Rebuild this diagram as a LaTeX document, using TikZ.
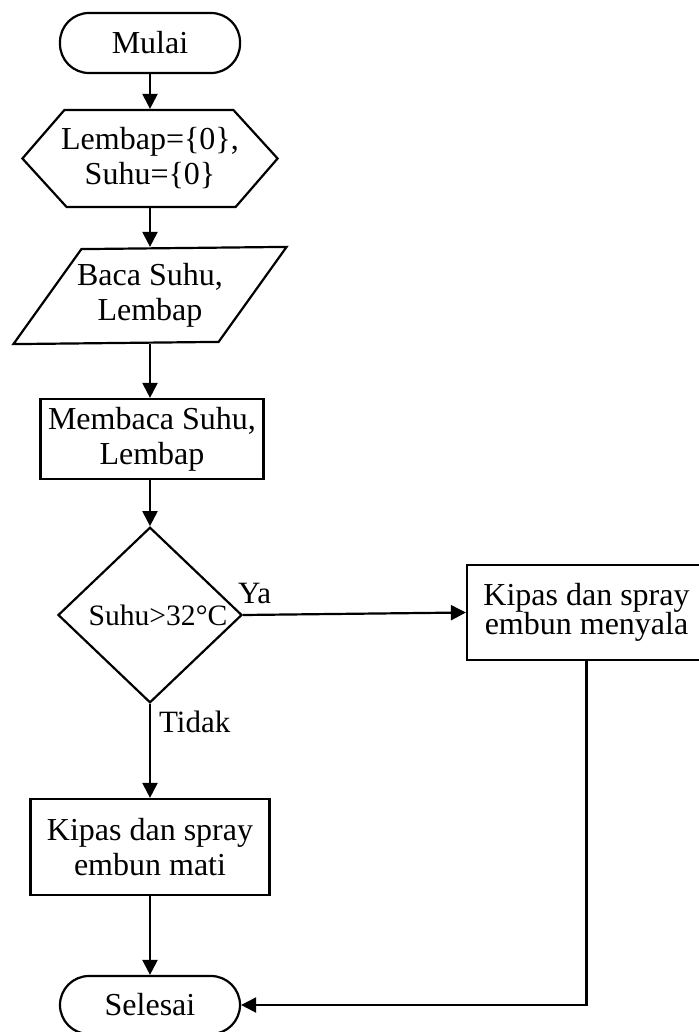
\documentclass[tikz,border=0pt]{standalone}
\usepackage{fontspec}
\setmainfont{Liberation Serif}
\usetikzlibrary{arrows.meta,shapes.geometric}

\begin{document}
\begin{tikzpicture}[x=0.5pt,y=-0.5pt,line width=1.1pt,
			font=\fontsize{16pt}{17.5pt}\selectfont,
			terminal/.style={draw,rounded corners=14.5pt,minimum width=90pt,minimum height=30pt,inner sep=0pt},
			prosesbox/.style={draw,rectangle,align=center,minimum width=119.5pt,minimum height=47.5pt,inner sep=0pt},
			keputusan/.style={draw,diamond,inner sep=0pt,minimum width=92pt,minimum height=85pt,font=\fontsize{14.8pt}{17pt}\selectfont},
			bentuk/.style={rectangle,align=center,inner sep=0pt},
			panah/.style={-{Triangle[length=7.5pt,width=7.5pt]}},
			cabang/.style={inner sep=1pt,font=\fontsize{15.5pt}{17pt}\selectfont}]
			\useasboundingbox (0,0) rectangle (699,1032);
			\node[terminal] (mulai) at (150,43) {Mulai};
			\node[bentuk,minimum width=126.5pt,minimum height=48.5pt] (awal) at (150,158.5) {Lembap=\{0\},\\Suhu=\{0\}};
			\draw (awal.west) -- ++(42,-48.5) -- ++(169,0) -- (awal.east) -- ++(-42,48.5) -- ++(-169,0) -- cycle;
			\node[bentuk,minimum width=135.5pt,minimum height=47.5pt] (baca) at (150,295.5) {Baca Suhu,\\Lembap};
			\draw (baca.south west) -- ++(68,-95) -- (baca.north east) -- ++(-68,95) -- cycle;
			\node[prosesbox,minimum width=111.5pt,minimum height=40pt] (proses) at (152,439) {Membaca Suhu,\\Lembap};
			\node[keputusan] (cek) at (150,615) {\hspace*{8pt}Suhu>32°C};
			\node[prosesbox] (nyala) at (586.5,612.5) {Kipas dan spray\\[-3pt]embun menyala};
			\node[prosesbox,minimum height=48pt] (mati) at (150,847) {Kipas dan spray\\embun mati};
			\node[terminal,minimum height=29pt] (selesai) at (150,1005) {Selesai};
			\draw[panah] (mulai) -- (awal);
			\draw[panah] (awal) -- (baca);
			\draw[panah] (baca.south) -- (baca.south |- proses.north);
			\draw[panah] (proses.south -| cek.north) -- (cek.north);
			\draw[panah] (cek.east) -- node[at start,cabang,anchor=south west,xshift=-4pt,yshift=4pt] {Ya} (nyala.west);
			\draw[panah] (cek.south) -- node[at start,cabang,anchor=north west,xshift=3pt,yshift=-2pt] {Tidak} (mati.north);
			\draw[panah] (mati) -- (selesai);
			\draw[panah] (nyala.south) |- (selesai.east);
			\end{tikzpicture}
\end{document}
